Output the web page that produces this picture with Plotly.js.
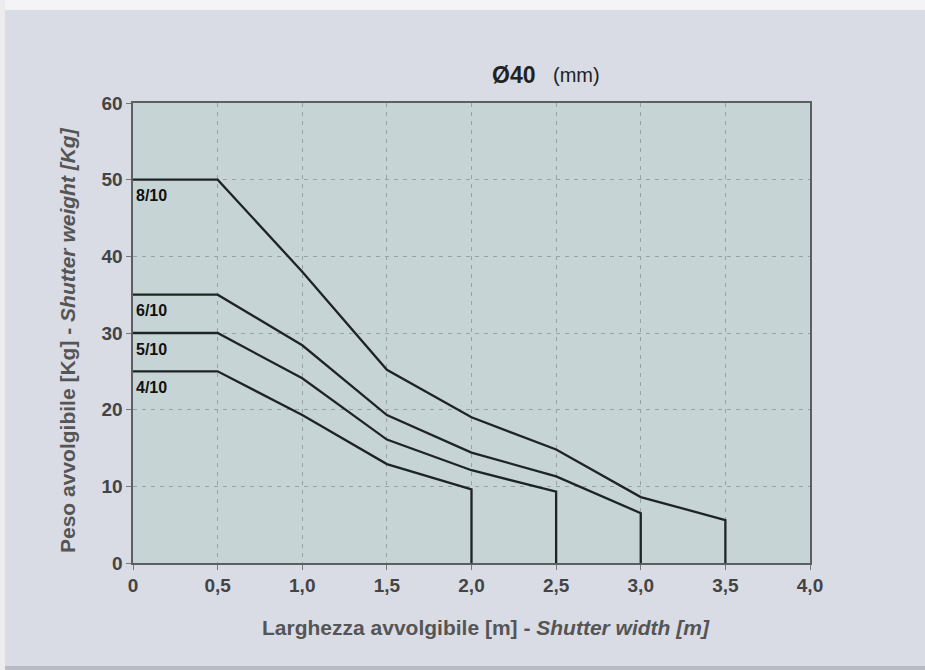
<!DOCTYPE html>
<html>
<head>
<meta charset="utf-8">
<script src="https://cdn.plot.ly/plotly-3.0.1.min.js"></script>
<style>
html,body{margin:0;padding:0;background:#d9dce5;}
#chart{width:925px;height:670px;}
</style>
</head>
<body>
<div id="chart"></div>
<script>
// Data
const seriesNames = ["8/10", "6/10", "5/10", "4/10"];
const x810 = [0, 0.5, 1.0, 1.5, 2.0, 2.5, 3.0, 3.5, 3.5];
const y810 = [50, 50, 38, 25.2, 19.0, 14.8, 8.6, 5.6, 0];
const x610 = [0, 0.5, 1.0, 1.5, 2.0, 2.5, 3.0, 3.0];
const y610 = [35, 35, 28.4, 19.3, 14.4, 11.3, 6.5, 0];
const x510 = [0, 0.5, 1.0, 1.5, 2.0, 2.5, 2.5];
const y510 = [30, 30, 24.1, 16.1, 12.1, 9.3, 0];
const x410 = [0, 0.5, 1.0, 1.5, 2.0, 2.0];
const y410 = [25, 25, 19.3, 12.9, 9.6, 0];
const xTickVals = [0, 0.5, 1.0, 1.5, 2.0, 2.5, 3.0, 3.5, 4.0];
const xTickText = ["0", "0,5", "1,0", "1,5", "2,0", "2,5", "3,0", "3,5", "4,0"];
const yTickVals = [0, 10, 20, 30, 40, 50, 60];

const xs = [x810, x610, x510, x410];
const ys = [y810, y610, y510, y410];

const traces = xs.map((x, i) => ({
  x: x, y: ys[i], type: 'scatter', mode: 'lines', name: seriesNames[i],
  line: {color: '#1e2424', width: 2.3}, hoverinfo: 'x+y+name'
}));

const W = 925, H = 670;
const mL = 133, mR = 115, mT = 103, mB = 107;
const pw = W - mL - mR, ph = H - mT - mB;
const px = v => (v - mL) / pw;           // pixel x -> paper x
const py = v => 1 + (mT - v) / ph;       // pixel y -> paper y
const FONT = 'Liberation Sans, Arial, sans-serif';

const labelAnn = seriesNames.map((n, i) => ({
  x: 0, y: ys[i][0], xref: 'x', yref: 'y', text: '<b>' + n + '</b>',
  showarrow: false, xanchor: 'left', yanchor: 'middle', xshift: 1, yshift: -16,
  font: {family: FONT, size: 16, color: '#111'}
}));

const tickFont = {family: FONT, size: 19, color: '#444', weight: 'bold'};

const layout = {
  width: W, height: H,
  margin: {l: mL, r: mR, t: mT, b: mB},
  paper_bgcolor: '#d9dce5',
  plot_bgcolor: '#c6d4d6',
  showlegend: false,
  font: {family: FONT},
  xaxis: {
    range: [0, 4.0], tickvals: xTickVals, ticktext: xTickText,
    showgrid: true, gridcolor: '#96a3a5', griddash: '4px,5px', gridwidth: 1,
    zeroline: false, showline: true, linecolor: '#5a6060', linewidth: 1.6, mirror: true,
    ticks: 'outside', ticklen: 5, tickcolor: '#777', tickwidth: 1,
    tickfont: tickFont
  },
  yaxis: {
    range: [0, 60], tickvals: yTickVals,
    showgrid: true, gridcolor: '#96a3a5', griddash: '4px,5px', gridwidth: 1,
    zeroline: false, showline: true, linecolor: '#5a6060', linewidth: 1.6, mirror: true,
    ticks: 'outside', ticklen: 5, tickcolor: '#777', tickwidth: 1,
    tickfont: tickFont
  },
  shapes: [
    {type: 'rect', xref: 'paper', yref: 'paper', x0: px(-5), x1: px(930), y0: py(10), y1: py(-5),
     fillcolor: '#f4f4f6', line: {width: 0}, layer: 'below'},
    {type: 'rect', xref: 'paper', yref: 'paper', x0: px(-5), x1: px(5), y0: py(675), y1: py(-5),
     fillcolor: '#ececef', line: {width: 0}, layer: 'below'},
    {type: 'rect', xref: 'paper', yref: 'paper', x0: px(5), x1: px(930), y0: py(675), y1: py(666),
     fillcolor: '#b8bbc4', line: {width: 0}, layer: 'below'}
  ],
  annotations: labelAnn.concat([
    {x: px(537), y: py(75), xref: 'paper', yref: 'paper', showarrow: false,
     xanchor: 'right', yanchor: 'middle', text: '<b>Ø40</b>',
     font: {family: FONT, size: 23, color: '#222'}},
    {x: px(551), y: py(75), xref: 'paper', yref: 'paper', showarrow: false,
     xanchor: 'left', yanchor: 'middle', text: '(mm)',
     font: {family: FONT, size: 20, color: '#222'}},
    {x: px(486), y: py(627), xref: 'paper', yref: 'paper', showarrow: false,
     xanchor: 'center', yanchor: 'middle',
     text: '<b>Larghezza avvolgibile [m] - <i>Shutter width [m]</i></b>',
     font: {family: FONT, size: 21, color: '#555'}},
    {x: px(67), y: py(340), xref: 'paper', yref: 'paper', showarrow: false,
     xanchor: 'center', yanchor: 'middle', textangle: -90,
     text: '<b>Peso avvolgibile [Kg] - <i>Shutter weight [Kg]</i></b>',
     font: {family: FONT, size: 21, color: '#555'}}
  ])
};

Plotly.newPlot('chart', traces, layout, {displayModeBar: false, staticPlot: true});
</script>
</body>
</html>
